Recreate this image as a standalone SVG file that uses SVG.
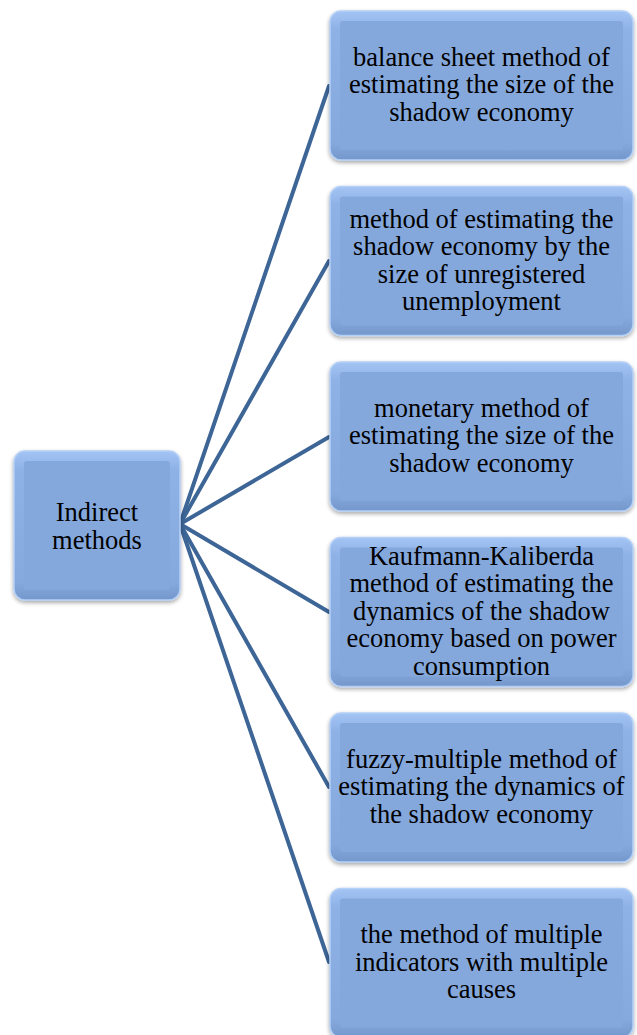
<svg xmlns="http://www.w3.org/2000/svg" width="637" height="1035" viewBox="0 0 637 1035">
<defs>
<linearGradient id="bevel" x1="0" y1="0" x2="0" y2="1">
<stop offset="0" stop-color="#a3c4f4"/>
<stop offset="0.12" stop-color="#8fb2e6"/>
<stop offset="0.88" stop-color="#86a9dd"/>
<stop offset="1" stop-color="#7598cc"/>
</linearGradient>
<filter id="sh" x="-10%" y="-10%" width="120%" height="125%">
<feGaussianBlur in="SourceAlpha" stdDeviation="2"/>
<feOffset dx="0" dy="2" result="b"/>
<feComponentTransfer><feFuncA type="linear" slope="0.35"/></feComponentTransfer>
<feMerge><feMergeNode/><feMergeNode in="SourceGraphic"/></feMerge>
</filter>
</defs>
<style>
.outer{fill:url(#bevel);stroke:#b4d0f6;stroke-width:1.5;filter:url(#sh)}
.inner{fill:#85a8dc}
.lbl{font-family:"Liberation Serif","Times New Roman",serif;font-size:26.5px;fill:#000;text-anchor:middle}
.con{stroke:#3d6596;stroke-width:4;fill:none;stroke-linecap:round}
</style>
<g id="connectors">
<line class="con" x1="180" y1="524" x2="329" y2="86"/>
<line class="con" x1="180" y1="524" x2="329" y2="261"/>
<line class="con" x1="180" y1="524" x2="329" y2="437"/>
<line class="con" x1="180" y1="524" x2="329" y2="612"/>
<line class="con" x1="180" y1="524" x2="329" y2="787"/>
<line class="con" x1="180" y1="524" x2="329" y2="962"/>
</g>
<g id="root">
<rect class="outer" x="14" y="451" width="166" height="149" rx="11"/>
<rect class="inner" x="24" y="461" width="146" height="129" rx="3"/>
<text class="lbl" x="97" y="521">Indirect</text>
<text class="lbl" x="97" y="548.5">methods</text>
</g>
<g id="n1">
<rect class="outer" x="330" y="11" width="303" height="149" rx="11"/>
<rect class="inner" x="340" y="21" width="283" height="129" rx="3"/>
<text class="lbl" x="481.5" y="65.5">balance sheet method of</text>
<text class="lbl" x="481.5" y="93">estimating the size of the</text>
<text class="lbl" x="481.5" y="120.5">shadow economy</text>
</g>
<g id="n2">
<rect class="outer" x="330" y="186.5" width="303" height="149" rx="11"/>
<rect class="inner" x="340" y="196.5" width="283" height="129" rx="3"/>
<text class="lbl" x="481.5" y="227.5">method of estimating the</text>
<text class="lbl" x="481.5" y="255">shadow economy by the</text>
<text class="lbl" x="481.5" y="282.5">size of unregistered</text>
<text class="lbl" x="481.5" y="310">unemployment</text>
</g>
<g id="n3">
<rect class="outer" x="330" y="362" width="303" height="149" rx="11"/>
<rect class="inner" x="340" y="372" width="283" height="129" rx="3"/>
<text class="lbl" x="481.5" y="416.5">monetary method of</text>
<text class="lbl" x="481.5" y="444">estimating the size of the</text>
<text class="lbl" x="481.5" y="471.5">shadow economy</text>
</g>
<g id="n4">
<rect class="outer" x="330" y="537.5" width="303" height="149" rx="11"/>
<rect class="inner" x="340" y="547.5" width="283" height="129" rx="3"/>
<text class="lbl" x="481.5" y="564.5">Kaufmann-Kaliberda</text>
<text class="lbl" x="481.5" y="592">method of estimating the</text>
<text class="lbl" x="481.5" y="619.5">dynamics of the shadow</text>
<text class="lbl" x="481.5" y="647">economy based on power</text>
<text class="lbl" x="481.5" y="674.5">consumption</text>
</g>
<g id="n5">
<rect class="outer" x="330" y="713" width="303" height="149" rx="11"/>
<rect class="inner" x="340" y="723" width="283" height="129" rx="3"/>
<text class="lbl" x="481.5" y="767.5">fuzzy-multiple method of</text>
<text class="lbl" x="481.5" y="795">estimating the dynamics of</text>
<text class="lbl" x="481.5" y="822.5">the shadow economy</text>
</g>
<g id="n6">
<rect class="outer" x="330" y="888.5" width="303" height="149" rx="11"/>
<rect class="inner" x="340" y="898.5" width="283" height="129" rx="3"/>
<text class="lbl" x="481.5" y="943">the method of multiple</text>
<text class="lbl" x="481.5" y="970.5">indicators with multiple</text>
<text class="lbl" x="481.5" y="998">causes</text>
</g>
</svg>
